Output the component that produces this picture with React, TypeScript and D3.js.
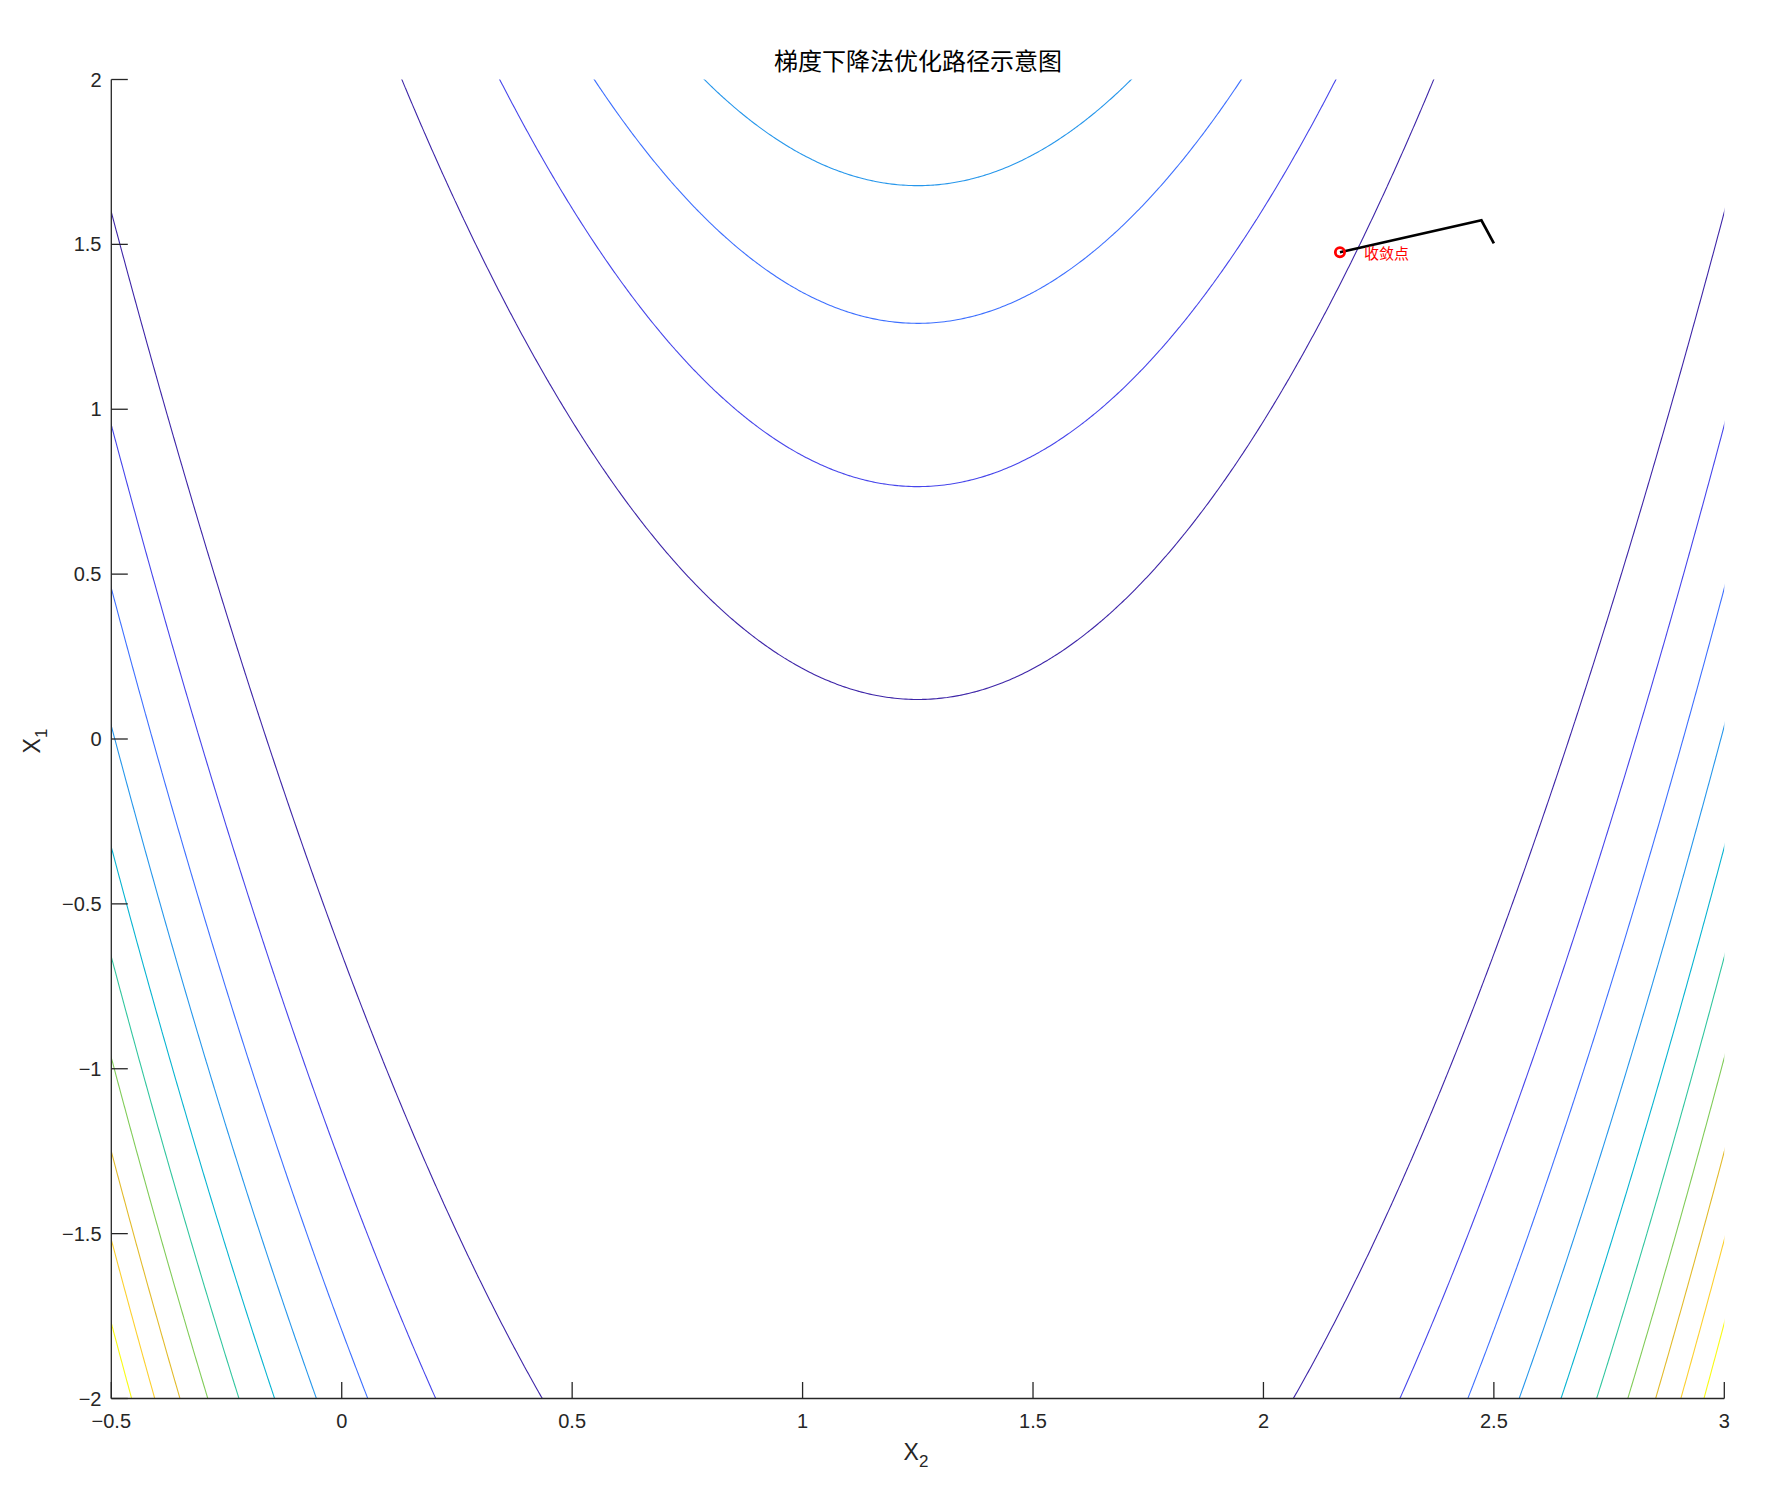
import React, { useMemo } from 'react';
import * as d3 from 'd3';

// ---------- data ----------
const chartTitle = '梯度下降法优化路径示意图';
const xDomain = [-0.5, 3];
const yDomain = [-2, 2];
const xTicks = [-0.5, 0, 0.5, 1, 1.5, 2, 2.5, 3];
const yTicks = [-2, -1.5, -1, -0.5, 0, 0.5, 1, 1.5, 2];

// objective surface f(x2, x1) = (x1 - curvature*(x2 - valleyX2)^2 - valleyOffset)^2
const valleyCurvature = 1.5;
const valleyX2 = 1.25;
const valleyOffset = -1.438;
// contour levels of f
const contourLevels = [2.427, 4.855, 7.282, 9.71, 12.137, 14.564, 16.992, 19.419, 21.847, 24.274];

// gradient descent path (X2, X1)
const pathX2 = [2.5, 2.473, 2.166];
const pathX1 = [1.503, 1.573, 1.476];
const convergencePoint = [2.166, 1.476];
const convergenceLabel = '收敛点';

// parula colormap stops
const parulaStops = [
  '#3e26a8', '#4746eb', '#3e70ff', '#2797eb', '#08b4d1',
  '#32c69f', '#81cc59', '#e2bb2c', '#fcd030', '#f9fb15',
];

// ---------- layout ----------
const W = 1778;
const H = 1496;
const L = 111.3;
const R = 1724.3;
const T = 79.5;
const B = 1398.5;
const AX = '#262626';
const FONT = '"Liberation Sans", Arial, Helvetica, sans-serif';
const CJK = '"Noto Sans CJK SC", "Noto Sans", sans-serif';

export default function App() {
  const x = d3.scaleLinear().domain(xDomain).range([L, R]);
  const y = d3.scaleLinear().domain(yDomain).range([B, T]);

  const colorScale = d3
    .scaleLinear<string>()
    .domain(parulaStops.map((_, i) => i / (parulaStops.length - 1)))
    .range(parulaStops)
    .interpolate(d3.interpolateRgb);
  const lvMin = d3.min(contourLevels) as number;
  const lvMax = d3.max(contourLevels) as number;

  const contourPaths = useMemo(() => {
    const step = 0.006;
    const gx0 = -0.6;
    const gx1 = 3.1;
    const gy0 = -2.1;
    const gy1 = 2.1;
    const nx = Math.ceil((gx1 - gx0) / step) + 1;
    const ny = Math.ceil((gy1 - gy0) / step) + 1;
    const values = new Float64Array(nx * ny);
    for (let j = 0; j < ny; j++) {
      const x1 = gy0 + j * step;
      for (let i = 0; i < nx; i++) {
        const x2 = gx0 + i * step;
        const g = x1 - valleyCurvature * (x2 - valleyX2) ** 2 - valleyOffset;
        values[i + j * nx] = g * g;
      }
    }
    const gen = d3.contours().size([nx, ny]).thresholds(contourLevels);
    const cs = gen(Array.from(values));
    return cs.map((c) => {
      let d = '';
      c.coordinates.forEach((poly) => {
        poly.forEach((ring) => {
          ring.forEach((p, k) => {
            const px = x(gx0 + (p[0] - 0.5) * step);
            const py = y(gy0 + (p[1] - 0.5) * step);
            d += (k === 0 ? 'M' : 'L') + px.toFixed(2) + ',' + py.toFixed(2);
          });
        });
      });
      return { value: c.value, d };
    });
  }, []);

  const fmt = (v: number) => d3.format('')(v);

  const pathLine = d3
    .line<number>()
    .x((_, i) => x(pathX2[i]))
    .y((_, i) => y(pathX1[i]))(pathX2);

  return (
    <svg
      width={W}
      height={H}
      style={{ position: 'absolute', left: 0, top: 0, background: '#fff' }}
    >
      <rect x={0} y={0} width={W} height={H} fill="#fff" />
      <defs>
        <clipPath id="plotClip">
          <rect x={L} y={T} width={R - L} height={B - T} />
        </clipPath>
      </defs>

      <g clipPath="url(#plotClip)">
        {contourPaths.map((c, i) => (
          <path
            key={i}
            d={c.d}
            fill="none"
            stroke={colorScale((c.value - lvMin) / (lvMax - lvMin))}
            strokeWidth={1.1}
          />
        ))}
      </g>

      {/* gradient descent path */}
      <path d={pathLine || ''} fill="none" stroke="#000" strokeWidth={2.7} strokeLinejoin="miter" />
      <circle
        cx={x(convergencePoint[0])}
        cy={y(convergencePoint[1])}
        r={4.6}
        fill="none"
        stroke="#ff0000"
        strokeWidth={2.8}
      />
      <text
        x={x(convergencePoint[0]) + 24}
        y={y(convergencePoint[1]) + 7}
        fontFamily={CJK}
        fontSize={15}
        fill="#ff0000"
      >
        {convergenceLabel}
      </text>

      {/* axes */}
      <line x1={L} x2={L} y1={T} y2={B} stroke={AX} strokeWidth={1.3} />
      <line x1={L} x2={R} y1={B} y2={B} stroke={AX} strokeWidth={1.3} />
      {xTicks.map((t) => (
        <g key={'xt' + t}>
          <line x1={x(t)} x2={x(t)} y1={B} y2={B - 16.5} stroke={AX} strokeWidth={1.3} />
          <text
            x={x(t)}
            y={1428}
            textAnchor="middle"
            fontFamily={FONT}
            fontSize={20}
            fill={AX}
          >
            {fmt(t)}
          </text>
        </g>
      ))}
      {yTicks.map((t) => (
        <g key={'yt' + t}>
          <line x1={L} x2={L + 16.5} y1={y(t)} y2={y(t)} stroke={AX} strokeWidth={1.3} />
          <text
            x={101.5}
            y={y(t)}
            textAnchor="end"
            dominantBaseline="central"
            fontFamily={FONT}
            fontSize={20}
            fill={AX}
          >
            {fmt(t)}
          </text>
        </g>
      ))}

      {/* axis labels */}
      <text x={916} y={1460} textAnchor="middle" fontFamily={FONT} fontSize={23} fill={AX}>
        X<tspan dy={7} fontSize={17}>2</tspan>
      </text>
      <text
        transform="translate(40,741) rotate(-90)"
        textAnchor="middle"
        fontFamily={FONT}
        fontSize={23}
        fill={AX}
      >
        X<tspan dy={7} fontSize={17}>1</tspan>
      </text>

      {/* title */}
      <text x={918} y={70} textAnchor="middle" fontFamily={CJK} fontSize={24} fill="#000">
        {chartTitle}
      </text>
    </svg>
  );
}
